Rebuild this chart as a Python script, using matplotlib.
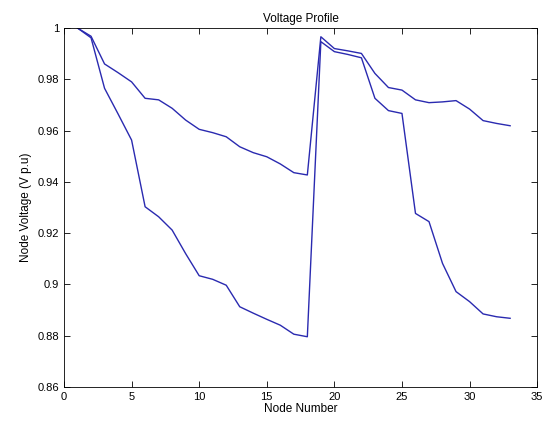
import matplotlib
matplotlib.use("Agg")
import matplotlib.pyplot as plt

nodes = list(range(1, 34))

# upper profile
v_upper = [1.0, 0.9968, 0.9860, 0.9826, 0.9790, 0.9726, 0.9720, 0.9687, 0.9641,
           0.9605, 0.9592, 0.9576, 0.9537, 0.9514, 0.9498, 0.9470, 0.9436, 0.9427,
           0.9966, 0.9920, 0.9911, 0.9901, 0.9823, 0.9768, 0.9758, 0.9720, 0.9709,
           0.9712, 0.9717, 0.9684, 0.9639, 0.9628, 0.9619]

# lower profile
v_lower = [1.0, 0.9962, 0.9765, 0.9665, 0.9563, 0.9303, 0.9264, 0.9212, 0.9120,
           0.9034, 0.9020, 0.8997, 0.8913, 0.8888, 0.8864, 0.8841, 0.8806, 0.8796,
           0.9947, 0.9908, 0.9897, 0.9884, 0.9726, 0.9678, 0.9667, 0.9277, 0.9245,
           0.9082, 0.8972, 0.8933, 0.8885, 0.8874, 0.8868]

plt.rcParams['font.family'] = ['Liberation Sans', 'DejaVu Sans']
fig = plt.figure(figsize=(5.47, 4.25), dpi=100)
ax = fig.add_axes([0.117, 0.0894, 0.865, 0.8446])

ax.plot(nodes, v_upper, color='#2a2ab0', lw=1.0)
ax.plot(nodes, v_lower, color='#2a2ab0', lw=1.0)

ax.set_xlim(0, 35)
ax.set_ylim(0.86, 1.0)
ax.set_xticks(range(0, 36, 5))
ax.set_yticks([0.86, 0.88, 0.9, 0.92, 0.94, 0.96, 0.98, 1])
ax.set_yticklabels(['0.86', '0.88', '0.9', '0.92', '0.94', '0.96', '0.98', '1'])
ax.tick_params(direction='in', top=True, right=True, labelsize=8, length=4, width=0.6)
for s in ax.spines.values():
    s.set_linewidth(0.6)

ax.set_title('Voltage Profile', fontsize=8.5, pad=4)
ax.set_xlabel('Node Number', fontsize=8.5, labelpad=1)
ax.set_ylabel('Node Voltage (V p.u)', fontsize=8.5, labelpad=4)

fig.savefig('out.png', dpi=100)
